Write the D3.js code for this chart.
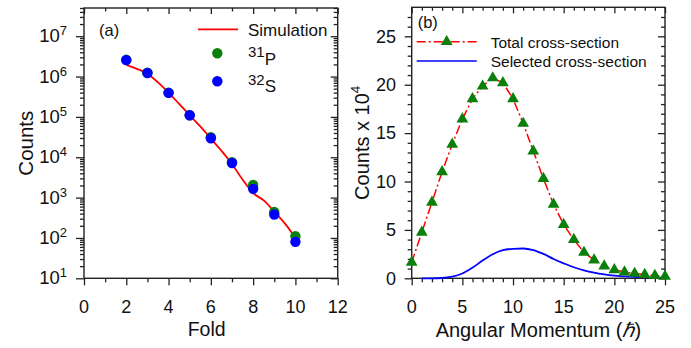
<!DOCTYPE html>
<html>
<head>
<meta charset="utf-8">
<script src="https://cdn.jsdelivr.net/npm/d3@7"></script>
<style>
body { margin: 0; background: #fff; }
svg { font-family: "Liberation Sans", Arial, sans-serif; }
</style>
</head>
<body>
<svg id="chart" width="691" height="348"></svg>
<script>
// ---- panel (a): counts vs fold ----
var folds = [2, 3, 4, 5, 6, 7, 8, 9, 10]
var countsP31 = [2.6e6, 1.25e6, 4.0e5, 1.1e5, 3.15e4, 7.5e3, 2.05e3, 440, 110]
var countsS32 = [2.55e6, 1.22e6, 3.95e5, 1.1e5, 2.95e4, 7.2e3, 1.65e3, 380, 80]
var simFold = [2, 2.5, 3, 3.5, 4, 4.5, 5, 5.5, 6, 6.5, 7, 7.5, 8, 8.5, 9, 9.5, 10]
var simCounts = [1.95e6, 1.55e6, 1.18e6, 7.2e5, 4.0e5, 2.1e5, 1.1e5, 5.8e4, 2.9e4, 1.45e4, 6.8e3, 2.8e3, 1.3e3, 850, 450, 230, 100]
var foldTicks = [0, 2, 4, 6, 8, 10, 12]
var foldMinor = [1, 3, 5, 7, 9, 11]
var decades = [1, 2, 3, 4, 5, 6, 7]

// ---- panel (b): cross-section vs angular momentum ----
var angMom = [0, 1, 2, 3, 4, 5, 6, 7, 8, 9, 10, 11, 12, 13, 14, 15, 16, 17, 18, 19, 20, 21, 22, 23, 24, 25]
var totalXs = [1.65, 4.75, 7.85, 11.0, 13.85, 16.45, 18.55, 19.85, 20.7, 20.2, 18.55, 16.0, 13.15, 10.3, 7.65, 5.55, 4.0, 2.67, 1.89, 1.27, 0.88, 0.65, 0.5, 0.38, 0.28, 0.2]
var selL = [1, 2, 3, 4, 5, 6, 7, 8, 9, 10, 11, 12, 13, 14, 15, 16, 17, 18, 19, 20, 21, 22, 23, 24, 25]
var selXs = [0, 0, 0.03, 0.17, 0.5, 1.1, 1.83, 2.48, 2.9, 3.05, 3.08, 2.92, 2.52, 2.0, 1.55, 1.14, 0.83, 0.59, 0.41, 0.28, 0.2, 0.14, 0.1, 0.07, 0.05]
var angTicks = [0, 5, 10, 15, 20, 25]
var angMinor = [1, 2, 3, 4, 6, 7, 8, 9, 11, 12, 13, 14, 16, 17, 18, 19, 21, 22, 23, 24]
var xsTicks = [0, 5, 10, 15, 20, 25]
var xsMinor = [1, 2, 3, 4, 6, 7, 8, 9, 11, 12, 13, 14, 16, 17, 18, 19, 21, 22, 23, 24, 26, 27]

var RED = "#ff0000", GREEN = "#0a800a", BLUE = "#0000ff", AX = "#222"

var svg = d3.select("#chart")

// scales
var xA = d3.scaleLinear().domain([0, 12]).range([84, 337.7])
var yA = d3.scaleLog().domain([10, 5e7]).range([278.3, 8])
var xB = d3.scaleLinear().domain([0, 25]).range([411.7, 665])
var yB = d3.scaleLinear().domain([0, 28]).range([278.3, 7.3])

// log minor tick positions
var logMinor = []
decades.forEach(function(e) {
  for (var m = 2; m <= 9; m++) {
    var v = m * Math.pow(10, e)
    if (v <= 5e7) logMinor.push(v)
  }
})

function tickRow(axisFn, scale, values, size, tx, ty) {
  svg.append("g")
    .attr("transform", "translate(" + tx + "," + ty + ")")
    .style("color", AX)
    .call(axisFn(scale).tickValues(values).tickSize(size).tickSizeOuter(0).tickFormat(""))
    .call(function(g) { g.select(".domain").remove() })
    .selectAll("line").attr("stroke-width", 1.3)
}

function frame(x, y) {
  svg.append("rect")
    .attr("x", x.range()[0]).attr("y", y.range()[1])
    .attr("width", x.range()[1] - x.range()[0])
    .attr("height", y.range()[0] - y.range()[1])
    .attr("fill", "none").attr("stroke", AX).attr("stroke-width", 1.4)
}

// ===== panel (a) =====
var a0 = xA.range()[0], a1 = xA.range()[1], aTop = yA.range()[1], aBot = yA.range()[0]
tickRow(d3.axisBottom, xA, foldTicks, 7, 0, aBot)
tickRow(d3.axisBottom, xA, foldMinor, 4, 0, aBot)
tickRow(d3.axisBottom, xA, foldTicks, 6, 0, aTop)
tickRow(d3.axisBottom, xA, foldMinor, 3.5, 0, aTop)
var majorsA = decades.map(function(e) { return Math.pow(10, e) })
tickRow(d3.axisLeft, yA, majorsA, 8, a0, 0)
tickRow(d3.axisLeft, yA, logMinor, 4, a0, 0)
tickRow(d3.axisRight, yA, majorsA, -7, a1, 0)
tickRow(d3.axisRight, yA, logMinor, -4, a1, 0)
frame(xA, yA)

// tick labels
svg.append("g").selectAll("text").data(foldTicks).join("text")
  .attr("x", function(d) { return xA(d) }).attr("y", 313)
  .attr("text-anchor", "middle").attr("font-size", 18).attr("fill", "#111")
  .text(function(d) { return d })

var yl = svg.append("g").selectAll("text").data(decades).join("text")
  .attr("x", 67).attr("y", function(d) { return yA(Math.pow(10, d)) + 6 })
  .attr("text-anchor", "end").attr("fill", "#111")
yl.append("tspan").attr("font-size", 18.5).text("10")
yl.append("tspan").attr("font-size", 13).attr("dy", -7).text(function(d) { return d })

svg.append("text").attr("x", xA(5.8)).attr("y", 335.7).attr("text-anchor", "middle")
  .attr("font-size", 19.5).attr("fill", "#111").text("Fold")
svg.append("text").attr("transform", "translate(33," + (aTop + aBot) / 2 + ") rotate(-90)")
  .attr("text-anchor", "middle").attr("font-size", 20.5).attr("fill", "#111").text("Counts")

// simulation curve
var simLine = d3.line()
  .x(function(d, i) { return xA(simFold[i]) })
  .y(function(d) { return yA(d) })
  .curve(d3.curveMonotoneX)
svg.append("path").datum(simCounts).attr("d", simLine)
  .attr("fill", "none").attr("stroke", RED).attr("stroke-width", 1.8)

svg.append("g").selectAll("circle").data(countsP31).join("circle")
  .attr("cx", function(d, i) { return xA(folds[i]) }).attr("cy", function(d) { return yA(d) })
  .attr("r", 5.2).attr("fill", GREEN)
svg.append("g").selectAll("circle").data(countsS32).join("circle")
  .attr("cx", function(d, i) { return xA(folds[i]) }).attr("cy", function(d) { return yA(d) })
  .attr("r", 5.2).attr("fill", BLUE)

// legend (a)
svg.append("text").attr("x", 99).attr("y", 36).attr("font-size", 16.5).attr("fill", "#111").text("(a)")
svg.append("line").attr("x1", 198).attr("x2", 238).attr("y1", 29.3).attr("y2", 29.3)
  .attr("stroke", RED).attr("stroke-width", 1.8)
svg.append("text").attr("x", 248).attr("y", 36).attr("font-size", 17).attr("fill", "#111").text("Simulation")
svg.append("circle").attr("cx", 217.3).attr("cy", 53.3).attr("r", 5.2).attr("fill", GREEN)
svg.append("circle").attr("cx", 217.3).attr("cy", 81.3).attr("r", 5.2).attr("fill", BLUE)
var lp = svg.append("text").attr("x", 248).attr("y", 57).attr("fill", "#111")
lp.append("tspan").attr("font-size", 15).text("31")
lp.append("tspan").attr("font-size", 17).attr("dy", 8).text("P")
var ls = svg.append("text").attr("x", 248).attr("y", 85).attr("fill", "#111")
ls.append("tspan").attr("font-size", 15).text("32")
ls.append("tspan").attr("font-size", 17).attr("dy", 7).text("S")

// ===== panel (b) =====
var b0 = xB.range()[0], b1 = xB.range()[1], bTop = yB.range()[1], bBot = yB.range()[0]
tickRow(d3.axisBottom, xB, angTicks, 7, 0, bBot)
tickRow(d3.axisBottom, xB, angMinor, 4, 0, bBot)
tickRow(d3.axisBottom, xB, angTicks, 6, 0, bTop)
tickRow(d3.axisBottom, xB, angMinor, 3.5, 0, bTop)
tickRow(d3.axisLeft, yB, xsTicks, 7, b0, 0)
tickRow(d3.axisLeft, yB, xsMinor, 4, b0, 0)
tickRow(d3.axisRight, yB, xsTicks, -7, b1, 0)
tickRow(d3.axisRight, yB, xsMinor, -4, b1, 0)
frame(xB, yB)

svg.append("g").selectAll("text").data(angTicks).join("text")
  .attr("x", function(d) { return xB(d) }).attr("y", 312.7)
  .attr("text-anchor", "middle").attr("font-size", 18).attr("fill", "#111")
  .text(function(d) { return d })
svg.append("g").selectAll("text").data(xsTicks).join("text")
  .attr("x", 396).attr("y", function(d) { return yB(d) + 6.2 })
  .attr("text-anchor", "end").attr("font-size", 18).attr("fill", "#111")
  .text(function(d) { return d })

var xt = svg.append("text").attr("x", (b0 + b1) / 2).attr("y", 337).attr("text-anchor", "middle")
  .attr("font-size", 20).attr("fill", "#111")
xt.append("tspan").text("Angular Momentum (")
xt.append("tspan").attr("font-style", "italic").text("\u210F")
xt.append("tspan").text(")")

var yt = svg.append("text").attr("transform", "translate(368.5," + (bTop + bBot) / 2 + ") rotate(-90)")
  .attr("text-anchor", "middle").attr("fill", "#111")
yt.append("tspan").attr("font-size", 20).text("Counts x 10")
yt.append("tspan").attr("font-size", 13.5).attr("dy", -9).text("4")

// total cross-section (dash-dot)
var totLine = d3.line()
  .x(function(d, i) { return xB(angMom[i]) })
  .y(function(d) { return yB(d) })
svg.append("path").datum(totalXs).attr("d", totLine)
  .attr("fill", "none").attr("stroke", RED).attr("stroke-width", 1.5)
  .attr("stroke-dasharray", "9,3,2,3")

// selected cross-section
var selLine = d3.line()
  .x(function(d, i) { return xB(selL[i]) })
  .y(function(d) { return yB(d) })
  .curve(d3.curveMonotoneX)
svg.append("path").datum(selXs).attr("d", selLine)
  .attr("fill", "none").attr("stroke", BLUE).attr("stroke-width", 1.8)

var tri = d3.symbol().type(d3.symbolTriangle).size(60)
svg.append("g").selectAll("path").data(totalXs).join("path")
  .attr("transform", function(d, i) { return "translate(" + xB(angMom[i]) + "," + yB(d) + ")" })
  .attr("d", tri).attr("fill", GREEN)

// legend (b)
svg.append("text").attr("x", 417.7).attr("y", 28).attr("font-size", 16.5).attr("fill", "#111").text("(b)")
svg.append("line").attr("x1", 416.7).attr("x2", 476.7).attr("y1", 41.7).attr("y2", 41.7)
  .attr("stroke", RED).attr("stroke-width", 1.5).attr("stroke-dasharray", "9,3,2,3")
svg.append("path").attr("transform", "translate(446.7,41.7)").attr("d", tri).attr("fill", GREEN)
svg.append("text").attr("x", 490.7).attr("y", 47.5).attr("font-size", 15.5).attr("fill", "#111").text("Total cross-section")
svg.append("line").attr("x1", 416.7).attr("x2", 476.7).attr("y1", 61).attr("y2", 61)
  .attr("stroke", BLUE).attr("stroke-width", 1.5)
svg.append("text").attr("x", 490.7).attr("y", 66.7).attr("font-size", 15.5).attr("fill", "#111").text("Selected cross-section")
</script>
</body>
</html>
